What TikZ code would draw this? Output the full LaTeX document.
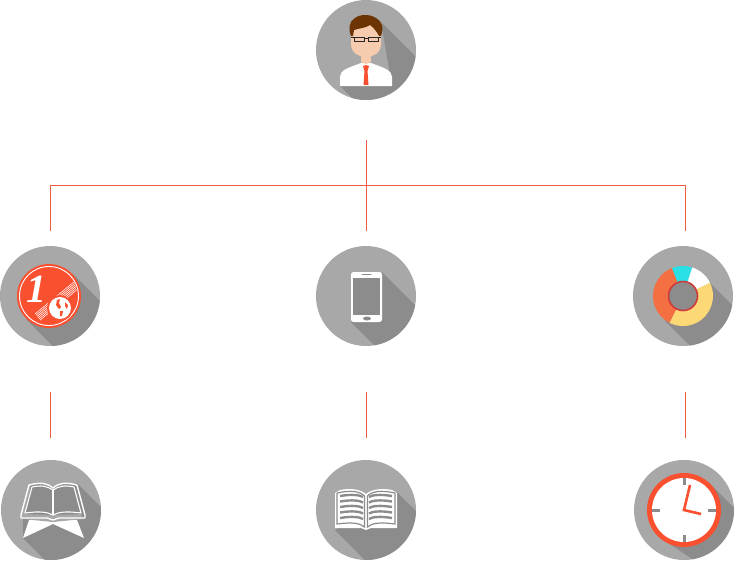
\documentclass[tikz,border=0pt]{standalone}
\usepackage{fontspec}
\newfontfamily\coinfont{Liberation Serif}
\definecolor{discgray}{HTML}{A8A8A8}
\definecolor{shadegray}{HTML}{8C8C8C}
\definecolor{linkred}{HTML}{EE5A46}
\definecolor{iconred}{HTML}{F9502F}
\definecolor{hairbrown}{HTML}{6B3402}
\definecolor{skin}{HTML}{F7CBAE}
\definecolor{slicecyan}{HTML}{2ADFE6}
\definecolor{sliceyellow}{HTML}{FDD876}
\definecolor{sliceorange}{HTML}{F46F41}
\definecolor{ringred}{HTML}{CF3A3A}
\tikzset{
  badge/.style={circle, fill=discgray, minimum size=100pt, inner sep=0pt, outer sep=0pt},
  link/.style={linkred, line width=0.7pt},
  pageline/.style={white, line join=round},
  tickmark/.style={shadegray, line width=3pt}
}
% long shadow: #1 is the badge, #2 the polygon relative to its centre
\newcommand{\badgeshade}[2]{
  \begin{scope}[shift={(#1)}]
    \clip (0,0) circle (50);
    \fill[shadegray] #2;
  \end{scope}
}
\begin{document}
\begin{tikzpicture}[x=1pt, y=-1pt, >=stealth]
  \useasboundingbox (0,0) rectangle (734,560);

  \node[badge] (person) at (366,50) {};
  \node[badge] (coin) at (50,296) {};
  \node[badge] (phone) at (366,296) {};
  \node[badge] (chart) at (683,296) {};
  \node[badge] (bible) at (51,510) {};
  \node[badge] (book) at (366,510) {};
  \node[badge] (clock) at (684,510) {};

  \coordinate (trunktop) at (366,140);
  \coordinate (busleft) at (50,185);
  \coordinate (busright) at (685,185);
  \coordinate (dropleft) at (50,231);
  \coordinate (dropmid) at (366,231);
  \coordinate (dropright) at (685,231);
  \draw[link] (trunktop) -- (dropmid);
  \draw[link] (dropleft) -- (busleft) -- (busright) -- (dropright);
  \foreach \x in {50,366,685} {
    \coordinate (up\x) at (\x,392);
    \coordinate (down\x) at (\x,437.5);
    \draw[link] (up\x) -- (down\x);
  }

  \badgeshade{person}{(15,-28) -- (60,17) -- (60,70) -- (8,70) -- (-26,36) -- (26,36) -- cycle}
  \badgeshade{coin}{(22,-23) -- (80,35) -- (80,80) -- (33,80) -- (-24,23) -- cycle}
  \badgeshade{phone}{(16,-24) -- (70,30) -- (70,80) -- (39,80) -- (-15,26) -- cycle}
  \badgeshade{chart}{(24,-16) -- (80,40) -- (80,80) -- (37,80) -- (-18,25) -- cycle}
  \badgeshade{bible}{(26,-27) -- (80,27) -- (80,80) -- (24,80) -- (-28,28) -- (-28,8) -- cycle}
  \badgeshade{book}{(31,-18) -- (80,31) -- (80,80) -- (29,80) -- (-31,20) -- cycle}
  \badgeshade{clock}{(26,-26) -- (80,28) -- (80,80) -- (54,80) -- (-26,26) -- cycle}

  % person
  \begin{scope}[shift={(person)}]
    \fill[white] (-26,36) -- (-26,27) .. controls (-26,20) and (-18,18) .. (-5,13) -- (5,13) .. controls (18,18) and (26,20) .. (26,27) -- (26,36) -- cycle;
    \fill[skin] (-5,0) rectangle (5,10);
    \fill[skin] (-5,9) -- (5,9) -- (5,12) -- (0,14) -- (-5,12) -- cycle;
    \fill[skin] (-15,-28) -- (15,-28) -- (15,-6) .. controls (15,3) and (7,7) .. (0,7) .. controls (-7,7) and (-15,3) .. (-15,-6) -- cycle;
    \fill[hairbrown] (-13,-14) -- (-12,-20) .. controls (-6,-22) and (0,-22) .. (4,-25) .. controls (8,-22) and (11,-18) .. (13,-14) -- (15,-14) .. controls (18,-22) and (16,-29) .. (10,-32) .. controls (4,-36) and (-6,-36) .. (-11,-32) .. controls (-17,-29) and (-18,-20) .. (-15,-14) -- cycle;
    \draw[black!85, line width=1pt] (-12,-13) rectangle (-2,-8.5) (2,-13) rectangle (12,-8.5) (-2,-12) -- (2,-12) (-15,-12.5) -- (-12,-12.5) (12,-12.5) -- (15,-12.5);
    \fill[iconred] (-3,16) -- (0,15) -- (3,16) -- (1.5,21) -- (2.5,35) -- (-2.5,35) -- (-1.5,21) -- cycle;
  \end{scope}

  % one-cent coin
  \begin{scope}[shift={(coin)}]
    \fill[iconred] (-1,0) circle (32);
    \draw[white, line width=0.9pt] (-1,0) circle (29.5);
    \node[white, inner sep=0pt, font=\coinfont\bfseries\itshape\fontsize{40}{40}\selectfont] (digit) at (-14,-7) {1};
    \begin{scope}
      \clip (-1,0) circle (28.5);
      \foreach \s in {0,1.6,3.2,4.8,6.4,8} {
        \draw[white, line width=0.55pt] (-15+\s*0.63,18+\s*0.77) -- (25+\s*0.63,-15+\s*0.77);
      }
    \end{scope}
    \fill[iconred] (10,12) circle (13);
    \fill[white] (10,12) circle (11);
    \fill[iconred] (7,4) -- (10,3) -- (9,7) -- (11,11) -- (9,13) -- (6,9) -- cycle;
    \fill[iconred] (10,15) -- (13,15) -- (12,20) -- (10,20) -- cycle;
    \fill[iconred] (15,6) -- (18,9) -- (17,13) -- (15,10) -- cycle;
  \end{scope}

  % phone
  \begin{scope}[shift={(phone)}]
    \fill[white, rounded corners=2.5pt] (-15,-24) rectangle (16,26);
    \fill[shadegray] (-13,-18) rectangle (14,19);
    \draw[shadegray, line width=1pt, line cap=round] (-4,-21.5) -- (5,-21.5);
    \fill[shadegray] (1,22.5) ellipse (4 and 2);
  \end{scope}

  % ring chart
  \begin{scope}[shift={(chart)}]
    \begin{scope}[y=1pt]
      \fill[slicecyan] (0,0) -- (112:30) arc (112:72:30) -- cycle;
      \fill[white] (0,0) -- (72:30) arc (72:26:30) -- cycle;
      \fill[sliceyellow] (0,0) -- (26:30) arc (26:-117:30) -- cycle;
      \fill[sliceorange] (0,0) -- (112:30) arc (112:243:30) -- cycle;
    \end{scope}
    \filldraw[fill=shadegray, draw=ringred, line width=1.6pt] (0,0) circle (14.5);
  \end{scope}

  % bible on its stand
  \begin{scope}[shift={(bible)}]
    \fill[white] (-22,10) -- (-28,28) -- (2,14) -- (33,28) -- (26,10) -- cycle;
    \fill[shadegray] (-20,-25) .. controls (-10,-28) and (-4,-27) .. (2,-22) .. controls (8,-27) and (14,-28) .. (24,-25) -- (30,4) -- (2,5) -- (-26,4) -- cycle;
    \fill[discgray] (-26,4) -- (2,5) -- (30,4) -- (32,9) -- (2,12) -- (-28,9) -- cycle;
    \draw[pageline, line width=1.4pt] (-22,-25) .. controls (-10,-28) and (-4,-27) .. (2,-22) .. controls (8,-27) and (14,-28) .. (26,-25) -- (34,5) -- (34,8) -- (8,8) -- (2,10) -- (-4,8) -- (-30,8) -- (-30,5) -- cycle;
    \draw[pageline, line width=1.1pt] (-19,-23) .. controls (-10,-25) and (-4,-24) .. (2,-20) .. controls (8,-24) and (14,-25) .. (23,-23) -- (30,3) .. controls (15,1) and (8,2) .. (2,5) .. controls (-4,2) and (-11,1) .. (-26,3) -- cycle;
    \draw[pageline, line width=1.1pt] (2,-20) -- (2,5);
  \end{scope}

  % open book
  \begin{scope}[shift={(book)}]
    \fill[white] (-31,-17) -- (-26,-20) .. controls (-16,-22) and (-6,-21) .. (0,-16) .. controls (6,-21) and (16,-22) .. (26,-20) -- (31,-17) -- (31,18) -- (5,18) -- (0,20) -- (-5,18) -- (-31,18) -- cycle;
    \foreach \y in {-13,-7.5,-2,3.5,9} {
      \draw[shadegray, line width=2.4pt] (-26,\y-1) .. controls (-14,\y-3) and (-6,\y-2) .. (-3,\y);
      \draw[shadegray, line width=2.4pt] (26,\y-1) .. controls (14,\y-3) and (6,\y-2) .. (3,\y);
    }
    \draw[shadegray, line width=1.2pt] (-29,-17) -- (-29,14) .. controls (-14,12) and (-6,13) .. (-1.5,17) -- (-1.5,-14) .. controls (-6,-19) and (-16,-20) .. (-29,-17);
    \draw[shadegray, line width=1.2pt] (29,-17) -- (29,14) .. controls (14,12) and (6,13) .. (1.5,17) -- (1.5,-14) .. controls (6,-19) and (16,-20) .. (29,-17);
  \end{scope}

  % clock
  \begin{scope}[shift={(clock)}]
    \fill[iconred] (0,0) circle (37);
    \fill[white] (0,0) circle (32);
    \draw[tickmark] (0,-32) -- (0,-25) (0,25) -- (0,32) (-32,0) -- (-24,0) (24,0) -- (32,0);
    \draw[iconred, line width=2.6pt, line join=miter] (6,-25) -- (0,0) -- (17,4);
  \end{scope}
\end{tikzpicture}
\end{document}
